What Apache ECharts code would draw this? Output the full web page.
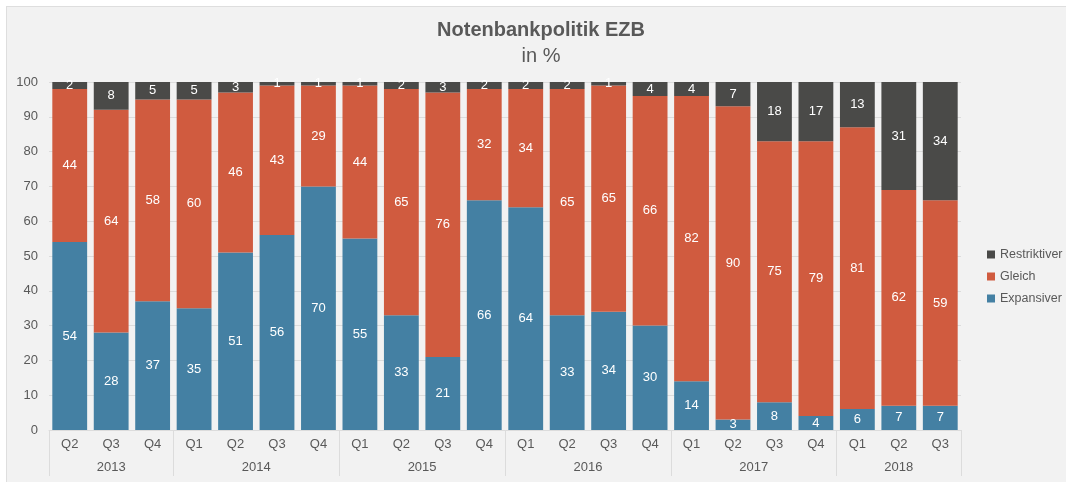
<!DOCTYPE html>
<html lang="de">

<head>
    <meta charset="UTF-8">
    <title>Notenbankpolitik EZB</title>
    <script src="https://cdnjs.cloudflare.com/ajax/libs/echarts/6.0.0/echarts.min.js"></script>
    <style>
        html, body {
            margin: 0;
            padding: 0;
            background: #ffffff;
            overflow: hidden;
        }

        .panel {
            position: absolute;
            left: 6px;
            top: 6px;
            width: 1070px;
            height: 480px;
            border: 1px solid #dedede;
            background-color: #f2f2f2;
        }
    </style>
</head>

<body>
    <div class="panel">
        <div id="main" style="width: 1068px;height:476px;"></div>
    </div>

    <script>
        const quarters = ["Q2", "Q3", "Q4", "Q1", "Q2", "Q3", "Q4", "Q1", "Q2", "Q3", "Q4",
            "Q1", "Q2", "Q3", "Q4", "Q1", "Q2", "Q3", "Q4", "Q1", "Q2", "Q3"];
        const years = ["2013", "2014", "2015", "2016", "2017", "2018"];
        const quartersPerYear = [3, 4, 4, 4, 4, 3];

        const expansiver = [54, 28, 37, 35, 51, 56, 70, 55, 33, 21, 66, 64, 33, 34, 30, 14, 3, 8, 4, 6, 7, 7];
        const gleich = [44, 64, 58, 60, 46, 43, 29, 44, 65, 76, 32, 34, 65, 65, 66, 82, 90, 75, 79, 81, 62, 59];
        const restriktiver = [2, 8, 5, 5, 3, 1, 1, 1, 2, 3, 2, 2, 2, 1, 4, 4, 7, 18, 17, 13, 31, 34];

        const textColor = "#595959";
        const lineColor = "#dcdcdc";

        // year axis: half-quarter points, so group edges and centres land on points
        const yearPoints = [];
        const yearEdges = [0];
        let pos = 0;
        quartersPerYear.forEach((n, i) => {
            for (let k = 0; k < n * 2; k++) {
                yearPoints.push(k === n ? years[i] : "");
            }
            pos += n * 2;
            yearEdges.push(pos);
        });
        yearPoints.push("");

        const chart = echarts.init(document.getElementById('main'));

        function barSeries(name, data, color) {
            return {
                name: name,
                type: 'bar',
                stack: 'total',
                barCategoryGap: '16%',
                data: data,
                itemStyle: { color: color },
                label: {
                    show: true,
                    position: 'inside',
                    color: '#ffffff',
                    fontSize: 13,
                    fontFamily: 'Liberation Sans'
                }
            };
        }

        const option = {
            animation: false,
            textStyle: { fontFamily: 'Liberation Sans' },
            title: {
                text: 'Notenbankpolitik EZB',
                subtext: 'in %',
                left: 'center',
                top: 8,
                itemGap: 6,
                textStyle: { fontSize: 20, fontWeight: 'bold', color: textColor },
                subtextStyle: { fontSize: 20, color: textColor }
            },
            legend: {
                orient: 'vertical',
                left: 975,
                top: 236,
                itemWidth: 8,
                itemHeight: 8,
                itemGap: 9,
                icon: 'rect',
                data: ['Restriktiver', 'Gleich', 'Expansiver'],
                textStyle: { fontSize: 12.5, color: textColor }
            },
            grid: {
                left: 42,
                right: 114,
                top: 75,
                bottom: 53,
                containLabel: false
            },
            xAxis: [
                {
                    type: 'category',
                    data: quarters,
                    axisLine: { lineStyle: { color: lineColor } },
                    axisTick: { show: false },
                    axisLabel: { color: textColor, fontSize: 13, margin: 8, interval: 0 }
                },
                {
                    type: 'category',
                    position: 'bottom',
                    data: yearPoints,
                    boundaryGap: false,
                    axisLine: { show: false },
                    axisTick: {
                        show: true,
                        length: 46,
                        interval: (index) => yearEdges.includes(index),
                        lineStyle: { color: lineColor }
                    },
                    axisLabel: { color: textColor, fontSize: 13, margin: 31, interval: 0 },
                    splitLine: { show: false }
                }
            ],
            yAxis: {
                type: 'value',
                min: 0,
                max: 100,
                interval: 10,
                axisLine: { show: false },
                axisTick: { show: false },
                axisLabel: { color: textColor, fontSize: 13, margin: 11 },
                splitLine: { lineStyle: { color: lineColor } }
            },
            series: [
                barSeries('Expansiver', expansiver, '#4480a3'),
                barSeries('Gleich', gleich, '#d05b3f'),
                barSeries('Restriktiver', restriktiver, '#4a4a48')
            ]
        };

        chart.setOption(option);
    </script>
</body>

</html>
